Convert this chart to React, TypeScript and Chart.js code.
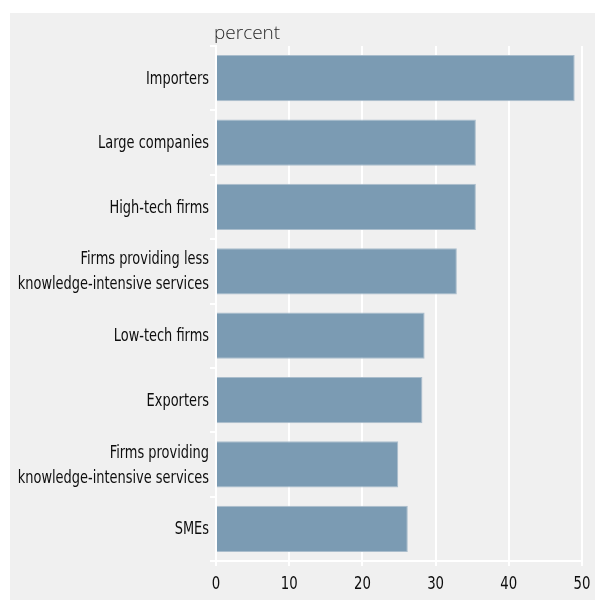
import React, { useEffect, useRef } from "react";
import { Chart, registerables } from "chart.js";

Chart.register(...registerables);

const categories: (string | string[])[] = [
  "Importers",
  "Large companies",
  "High-tech firms",
  ["Firms providing less", "knowledge-intensive services"],
  "Low-tech firms",
  "Exporters",
  ["Firms providing", "knowledge-intensive services"],
  "SMEs",
];
const values = [49.0, 35.5, 35.5, 32.9, 28.5, 28.2, 24.9, 26.2];
const xTicks = [0, 10, 20, 30, 40, 50];
const unitLabel = "percent";

const BG = "#f0f0f0";
const FONT = "'DejaVu Sans Condensed', 'DejaVu Sans', sans-serif";

export default function App() {
  const ref = useRef<HTMLCanvasElement | null>(null);
  useEffect(() => {
    if (!ref.current) return;
    const bgPlugin = {
      id: "bg",
      beforeDraw(chart: any) {
        const ctx = chart.ctx;
        ctx.save();
        ctx.fillStyle = BG;
        ctx.fillRect(10, 13, chart.width - 10, chart.height - 13);
        ctx.restore();
      },
      afterDraw(chart: any) {
        const ctx = chart.ctx;
        ctx.save();
        ctx.fillStyle = "#2a2a2a";
        ctx.font = "300 19px 'Open Sans', sans-serif";
        ctx.textAlign = "left";
        ctx.textBaseline = "alphabetic";
        ctx.fillText(unitLabel, chart.chartArea.left - 2, 39);
        ctx.restore();

        // category labels, condensed horizontally
        const ys = chart.scales.y;
        const lineH = 25;
        ctx.save();
        ctx.fillStyle = "#0d0d0d";
        ctx.font = `18px ${FONT}`;
        ctx.textAlign = "right";
        ctx.textBaseline = "middle";
        const labels = chart.data.labels as (string | string[])[];
        labels.forEach((lab, i) => {
          const lines = Array.isArray(lab) ? lab : [lab];
          const py = ys.getPixelForTick(i);
          const start = py - ((lines.length - 1) * lineH) / 2;
          lines.forEach((ln, j) => {
            ctx.save();
            ctx.translate(chart.chartArea.left - 7, start + j * lineH + 1);
            ctx.scale(0.8, 1);
            ctx.fillText(ln, 0, 0);
            ctx.restore();
          });
        });
        ctx.restore();

        // x tick labels, condensed horizontally
        const xs = chart.scales.x;
        ctx.save();
        ctx.fillStyle = "#0d0d0d";
        ctx.font = `18px ${FONT}`;
        ctx.textAlign = "center";
        ctx.textBaseline = "middle";
        xTicks.forEach((v) => {
          ctx.save();
          ctx.translate(xs.getPixelForValue(v), 584);
          ctx.scale(0.82, 1);
          ctx.fillText(String(v), 0, 0);
          ctx.restore();
        });
        ctx.restore();
      },
    };
    const chart = new Chart(ref.current, {
      type: "bar",
      data: {
        labels: categories,
        datasets: [
          {
            data: values,
            backgroundColor: "#7b9bb3",
            borderColor: "#aabdcc",
            borderWidth: 1,
            barPercentage: 0.72,
            categoryPercentage: 1,
          },
        ],
      },
      options: {
        indexAxis: "y",
        animation: false,
        responsive: false,
        devicePixelRatio: 1,
        layout: { padding: { left: 10, top: 46, right: 13, bottom: 0 } },
        plugins: { legend: { display: false }, tooltip: { enabled: false }, title: { display: false } },
        scales: {
          x: {
            min: 0,
            max: 50,
            afterBuildTicks(scale: any) {
              scale.ticks = xTicks.map((v) => ({ value: v }));
            },
            afterFit(scale: any) {
              scale.height = 39;
            },
            grid: { color: "#ffffff", lineWidth: 2, tickLength: 5, drawOnChartArea: true },
            border: { display: true, color: "#ffffff", width: 2 },
            ticks: { display: false, maxRotation: 0 },
          },
          y: {
            afterFit(scale: any) {
              scale.width = 206;
            },
            grid: { color: "#ffffff", lineWidth: 2, tickLength: 6, drawOnChartArea: false, offset: true },
            border: { display: true, color: "#ffffff", width: 2 },
            ticks: { display: false, autoSkip: false },
          },
        },
      },
      plugins: [bgPlugin],
    } as any);
    return () => chart.destroy();
  }, []);
  return (
    <div style={{ position: "absolute", left: 0, top: 0, width: 595, height: 600 }}>
      <canvas ref={ref} width={595} height={600} style={{ display: "block", width: 595, height: 600 }} />
    </div>
  );
}
